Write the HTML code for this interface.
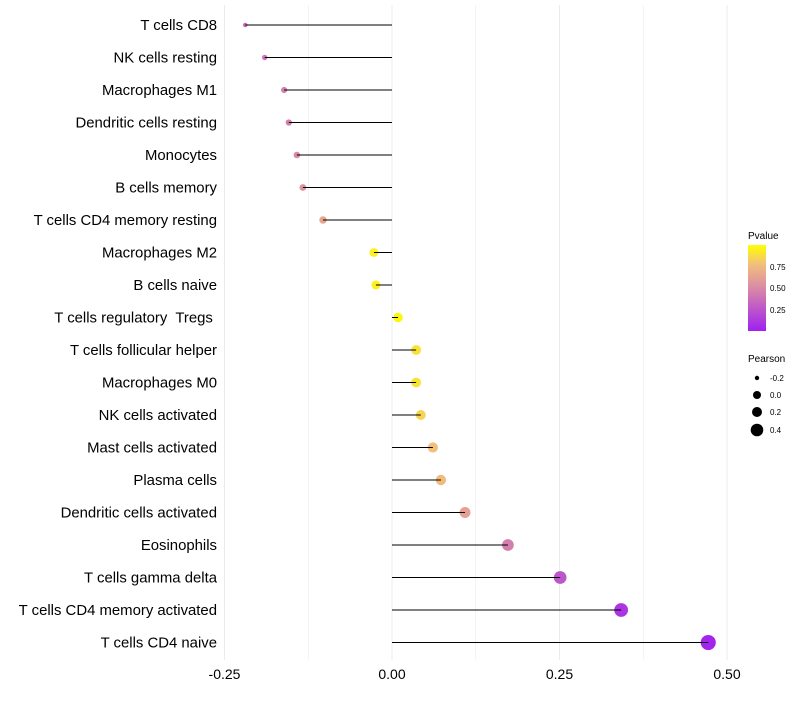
<!DOCTYPE html>
<html><head><meta charset="utf-8"><style>
body{margin:0;background:#fff;font-family:"Liberation Sans",sans-serif}
text{white-space:pre}
</style></head><body>
<svg id="chart" width="800" height="700" xmlns="http://www.w3.org/2000/svg">
<defs><linearGradient id="pg" x1="0" y1="1" x2="0" y2="0">
<stop offset="0" stop-color="#a020f0"/><stop offset="0.5" stop-color="#d98aa6"/><stop offset="0.78" stop-color="#f2c07a"/><stop offset="1" stop-color="#ffff00"/></linearGradient></defs>
<g id="grid"></g><g id="points"></g><g id="marks"></g><g id="labels"></g>
<g font-size="10">
<text x="748" y="239" fill="#000">Pvalue</text>
<rect x="748" y="245" width="18" height="86" fill="url(#pg)"/>
<text x="770" y="270" font-size="8">0.75</text>
<text x="770" y="291" font-size="8">0.50</text>
<text x="770" y="313" font-size="8">0.25</text>
<text x="748" y="362">Pearson</text>
<circle cx="757" cy="378" r="2.2"/><text x="770" y="381" font-size="8">-0.2</text>
<circle cx="757" cy="395" r="4"/><text x="770" y="398" font-size="8">0.0</text>
<circle cx="757" cy="412" r="5"/><text x="770" y="415" font-size="8">0.2</text>
<circle cx="757" cy="430" r="6.3"/><text x="770" y="433" font-size="8">0.4</text>
</g>
</svg>
<script>
const categories=["T cells CD8","NK cells resting","Macrophages M1","Dendritic cells resting","Monocytes","B cells memory","T cells CD4 memory resting","Macrophages M2","B cells naive","T cells regulatory  Tregs ","T cells follicular helper","Macrophages M0","NK cells activated","Mast cells activated","Plasma cells","Dendritic cells activated","Eosinophils","T cells gamma delta","T cells CD4 memory activated","T cells CD4 naive"];
const pearson=[-0.219,-0.19,-0.161,-0.154,-0.142,-0.133,-0.103,-0.027,-0.024,0.009,0.036,0.036,0.043,0.061,0.073,0.109,0.173,0.251,0.342,0.472];
const pvalue=[0.35,0.4,0.45,0.45,0.5,0.55,0.65,0.95,0.95,0.97,0.9,0.9,0.85,0.78,0.76,0.62,0.45,0.25,0.1,0.02];
const ticks=[-0.25,0,0.25,0.5];
const tickLabels=["-0.25","0.00","0.25","0.50"];
const NS="http://www.w3.org/2000/svg";
const xs=v=>392+v*670;
const ys=i=>25+i*32.5;
const rs=v=>Math.sqrt(Math.max(4,5+75*(v+0.22)));
const stops=[[0,[160,32,240]],[0.5,[217,138,166]],[0.78,[242,192,122]],[1,[255,255,0]]];
function col(p){for(let k=1;k<stops.length;k++){if(p<=stops[k][0]){const a=stops[k-1],b=stops[k],t=(p-a[0])/(b[0]-a[0]);return "rgb("+a[1].map((c,j)=>Math.round(c+(b[1][j]-c)*t)).join(",")+")";}}return "rgb(255,255,0)";}
function mk(t,at,parent){const e=document.createElementNS(NS,t);for(const k in at)e.setAttribute(k,at[k]);document.getElementById(parent).appendChild(e);return e;}
[-0.25,-0.125,0,0.125,0.25,0.375,0.5].forEach(v=>{const l=mk("line",{x1:xs(v),x2:xs(v),y1:5,y2:660,stroke:"#ebebeb","stroke-width":Number.isInteger(v*4)?1:0.6},"grid");

});
ticks.forEach((v,i)=>{const t=mk("text",{x:xs(v),y:679,"text-anchor":"middle","font-size":14,fill:"#000"},"labels");t.textContent=tickLabels[i];

});
categories.forEach((c,i)=>{const y=ys(i);
const t=mk("text",{x:217,y:y+5,"text-anchor":"end","font-size":14.9,fill:"#000"},"labels");t.textContent=c;


const p=mk("circle",{cx:xs(pearson[i]),cy:y,r:rs(pearson[i]),fill:col(pvalue[i])},"points");


const l=mk("line",{x1:xs(0),x2:xs(pearson[i]),y1:y,y2:y,stroke:"#000","stroke-width":1},"marks");

});
</script>
</body></html>
